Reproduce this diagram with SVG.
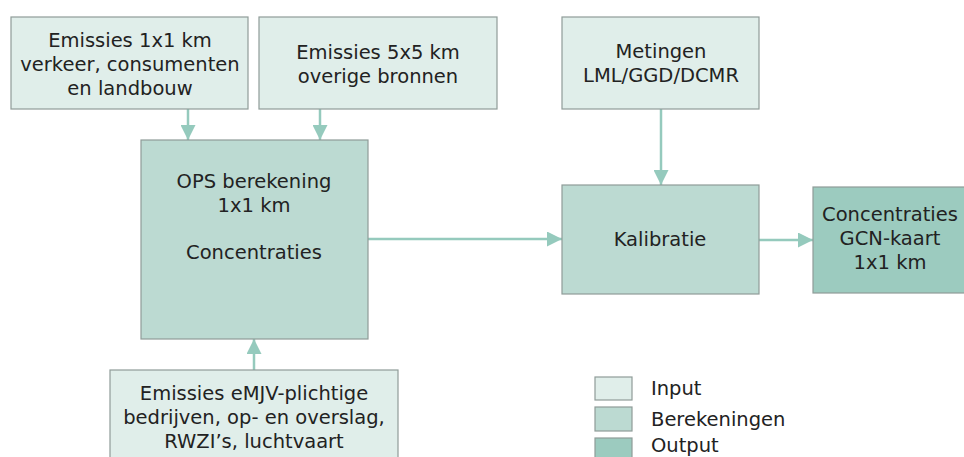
<svg xmlns="http://www.w3.org/2000/svg" width="964" height="457" viewBox="0 0 964 457">
<style>
text{font-family:"DejaVu Sans","Open Sans",sans-serif;font-size:19.5px;fill:#222;text-anchor:middle}
.in{fill:#e0eeea;stroke:#8f9c98;stroke-width:1.2}
.calc{fill:#bcdad2;stroke:#8f9c98;stroke-width:1.2}
.out{fill:#9ccbbf;stroke:#8f9c98;stroke-width:1.2}
.con{stroke:#95cabd;stroke-width:2.5;fill:none}
.leg{text-anchor:start}
</style>
<defs>
<marker id="ah" viewBox="0 0 10 10" refX="10" refY="5" markerWidth="6" markerHeight="6" orient="auto" markerUnits="strokeWidth">
<path d="M0,0 L10,5 L0,10 z" fill="#95cabd"/>
</marker>
</defs>
<rect width="964" height="457" fill="#fff"/>
<g id="connectors">
<line class="con" x1="188" y1="109" x2="188" y2="140" marker-end="url(#ah)"/>
<line class="con" x1="320" y1="109" x2="320" y2="140" marker-end="url(#ah)"/>
<line class="con" x1="661" y1="109" x2="661" y2="185" marker-end="url(#ah)"/>
<line class="con" x1="368" y1="239" x2="562" y2="239" marker-end="url(#ah)"/>
<line class="con" x1="759" y1="240" x2="813" y2="240" marker-end="url(#ah)"/>
<line class="con" x1="254" y1="370" x2="254" y2="339" marker-end="url(#ah)"/>
</g>
<g id="emissies1x1">
<rect class="in" x="11" y="17" width="237" height="92"/>
<text x="130" y="47">Emissies 1x1 km</text>
<text x="130" y="71">verkeer, consumenten</text>
<text x="130" y="95">en landbouw</text>
</g>
<g id="emissies5x5">
<rect class="in" x="259" y="17" width="238" height="92"/>
<text x="378" y="59">Emissies 5x5 km</text>
<text x="378" y="83">overige bronnen</text>
</g>
<g id="metingen">
<rect class="in" x="562" y="17" width="197" height="92"/>
<text x="661" y="58">Metingen</text>
<text x="661" y="82">LML/GGD/DCMR</text>
</g>
<g id="ops">
<rect class="calc" x="141" y="140" width="227" height="199"/>
<text x="254" y="188">OPS berekening</text>
<text x="254" y="212">1x1 km</text>
<text x="254" y="259">Concentraties</text>
</g>
<g id="kalibratie">
<rect class="calc" x="562" y="185" width="197" height="109"/>
<text x="660" y="246">Kalibratie</text>
</g>
<g id="output">
<rect class="out" x="813" y="187" width="160" height="106"/>
<text x="890" y="221">Concentraties</text>
<text x="890" y="245">GCN-kaart</text>
<text x="890" y="269">1x1 km</text>
</g>
<g id="emissiesEMJV">
<rect class="in" x="110" y="370" width="288" height="100"/>
<text x="254" y="400">Emissies eMJV-plichtige</text>
<text x="254" y="424">bedrijven, op- en overslag,</text>
<text x="254" y="448">RWZI’s, luchtvaart</text>
</g>
<g id="legend">
<rect class="in" x="595" y="377" width="37" height="23"/>
<rect class="calc" x="595" y="407" width="37" height="24"/>
<rect class="out" x="595" y="438" width="37" height="24"/>
<text class="leg" x="651" y="395">Input</text>
<text class="leg" x="651" y="426">Berekeningen</text>
<text class="leg" x="651" y="452">Output</text>
</g>
</svg>
